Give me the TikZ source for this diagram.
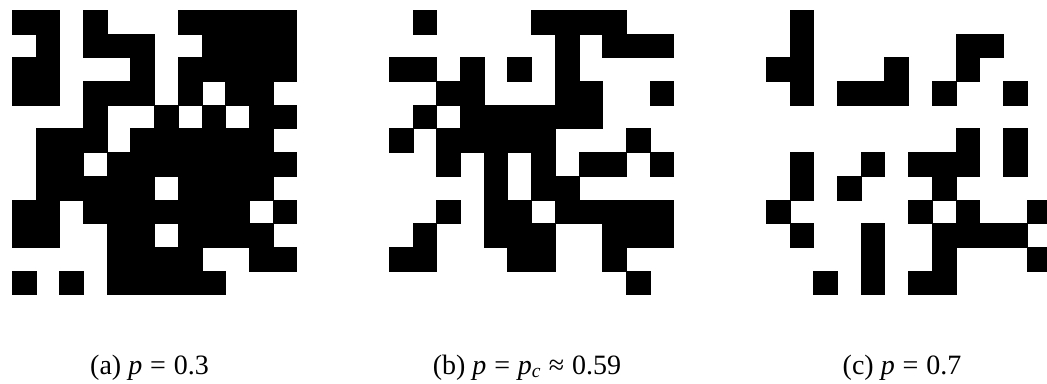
\documentclass[tikz,border=0pt]{standalone}
\usepackage{fontspec}
\setmainfont{Liberation Serif}
\newcommand{\msp}{\hspace{0.28em}}
\tikzset{
  cell/.style={fill=black, draw=black, line width=0.2pt},
  caption/.style={anchor=base, inner sep=0pt, font=\fontsize{28}{33}\selectfont}
}
\begin{document}
\begin{tikzpicture}[x=1pt, y=-1pt]
\useasboundingbox (0,0) rectangle (1047,383);
\clip (0,0) rectangle (1047,383);
\def\s{23.7}
% grid (a)
\foreach \r/\cs in {0/{0,1,3,7,8,9,10,11},1/{1,3,4,5,8,9,10,11},2/{0,1,5,7,8,9,10,11},
  3/{0,1,3,4,5,7,9,10},4/{3,6,8,10,11},5/{1,2,3,5,6,7,8,9,10},6/{1,2,4,5,6,7,8,9,10,11},
  7/{1,2,3,4,5,7,8,9,10},8/{0,1,3,4,5,6,7,8,9,11},9/{0,1,4,5,7,8,9,10},10/{4,5,6,7,10,11},
  11/{0,2,4,5,6,7,8}}{
  \foreach \c in \cs {\path[cell] (12+\c*\s,10+\r*\s) rectangle ++(\s,\s);}
}
% grid (b)
\foreach \r/\cs in {0/{1,6,7,8,9},1/{7,9,10,11},2/{0,1,3,5,7},3/{2,3,7,8,11},
  4/{1,3,4,5,6,7,8},5/{0,2,3,4,5,6,10},6/{2,4,6,8,9,11},7/{4,6,7},
  8/{2,4,5,7,8,9,10,11},9/{1,4,5,6,9,10,11},10/{0,1,5,6,9},11/{10}}{
  \foreach \c in \cs {\path[cell] (389+\c*\s,10+\r*\s) rectangle ++(\s,\s);}
}
% grid (c)
\foreach \r/\cs in {0/{1},1/{1,8,9},2/{0,1,5,8},3/{1,3,4,5,7,10},5/{8,10},
  6/{1,4,6,7,8,10},7/{1,3,7},8/{0,6,8,11},9/{1,4,7,8,9,10},10/{4,7,11},11/{2,4,6,7}}{
  \foreach \c in \cs {\path[cell] (766+\c*\s,10+\r*\s) rectangle ++(\s,\s);}
}
\node[caption] (capa) at (149.5,374) {(a) \textit{p}\msp=\msp0.3};
\node[caption] (capb) at (527,374) {(b) \textit{p}\msp=\msp\textit{p}\textsubscript{\textit{c}}\msp≈\msp0.59};
\node[caption] (capc) at (902,374) {(c) \textit{p}\msp=\msp0.7};
\end{tikzpicture}
\end{document}
